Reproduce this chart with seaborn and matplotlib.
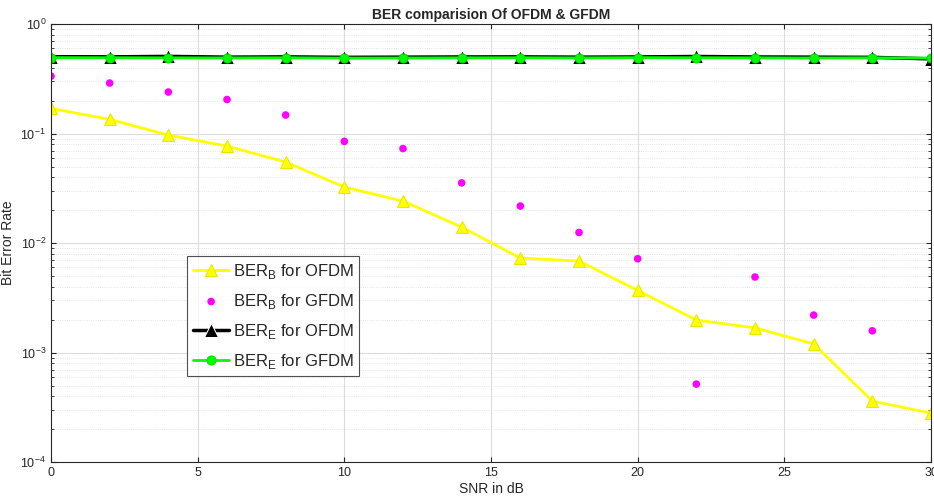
import numpy as np
import pandas as pd
import matplotlib
matplotlib.use("Agg")
import matplotlib.pyplot as plt
import seaborn as sns

# SNR points (dB)
snr = [0, 2, 4, 6, 8, 10, 12, 14, 16, 18, 20, 22, 24, 26, 28, 30]
# bob's BER, OFDM
berb_ofdm = [0.17, 0.135, 0.097, 0.077, 0.055, 0.0325, 0.0242, 0.014, 0.0073, 0.00685,
             0.0037, 0.00198, 0.00168, 0.0012, 0.00036, 0.00028]
# bob's BER, GFDM (no point shown at 30 dB)
snr_g = [0, 2, 4, 6, 8, 10, 12, 14, 16, 18, 20, 22, 24, 26, 28]
berb_gfdm = [0.335, 0.29, 0.24, 0.205, 0.148, 0.085, 0.073, 0.0355, 0.0218, 0.0125,
             0.0072, 0.000515, 0.0049, 0.0022, 0.00158]
# eve's BER
bere_ofdm = [0.505, 0.503, 0.508, 0.5, 0.503, 0.498, 0.5, 0.502, 0.503, 0.5,
             0.502, 0.507, 0.502, 0.5, 0.498, 0.482]
bere_gfdm = [0.495, 0.494, 0.493, 0.492, 0.494, 0.49, 0.491, 0.493, 0.494, 0.492,
             0.495, 0.494, 0.493, 0.491, 0.493, 0.49]

sns.set_style("ticks")
plt.rcParams['font.family'] = ['Liberation Sans', 'DejaVu Sans']
plt.rcParams['mathtext.fontset'] = 'custom'
plt.rcParams['mathtext.rm'] = 'Liberation Sans'

fig = plt.figure(figsize=(9.34, 5.04), dpi=100)
ax = fig.add_axes([0.0546, 0.0833, 0.9422, 0.8687])

sns.lineplot(x=snr, y=berb_ofdm, ax=ax, color='#ffff00', lw=2, marker='^', ms=8,
             mec='#e8e800', label=r'BER$_\mathregular{B}$ for OFDM')
sns.scatterplot(x=snr_g, y=berb_gfdm, ax=ax, color='#ff00ff', s=30, edgecolor='none',
                label=r'BER$_\mathregular{B}$ for GFDM')
sns.lineplot(x=snr, y=bere_ofdm, ax=ax, color='black', lw=2.5, marker='^', ms=10,
             label=r'BER$_\mathregular{E}$ for OFDM')
sns.lineplot(x=snr, y=bere_gfdm, ax=ax, color='#00ff00', lw=2, marker='o', ms=6.5,
             mec='#00dd00', label=r'BER$_\mathregular{E}$ for GFDM')

ax.set_yscale('log')
ax.set_xlim(0, 30)
ax.set_ylim(1e-4, 1)
ax.set_xticks([0, 5, 10, 15, 20, 25, 30])
ax.grid(True, which='major', color='#dcdcdc', lw=0.8)
ax.grid(True, which='minor', axis='y', color='#dcdcdc', lw=0.6, ls=':')
ax.tick_params(direction='in', which='both', labelsize=9, colors='#262626')
ax.tick_params(which='both', top=True, right=True)
for s in ax.spines.values():
    s.set_color('#262626')
    s.set_linewidth(0.8)

ax.set_title('BER comparision Of OFDM & GFDM', fontsize=10, fontweight='bold', pad=4)
ax.set_xlabel('SNR in dB', fontsize=10, labelpad=2)
ax.set_ylabel('Bit Error Rate', fontsize=10)

leg = ax.legend(loc='upper left', bbox_to_anchor=(0.1545, 0.47), borderaxespad=0,
                fontsize=12, frameon=True, fancybox=False, edgecolor='#262626',
                borderpad=0.35, labelspacing=0.65, handlelength=2.2, handletextpad=0.2)
leg.get_frame().set_linewidth(0.8)

fig.savefig('out.png', dpi=100)
